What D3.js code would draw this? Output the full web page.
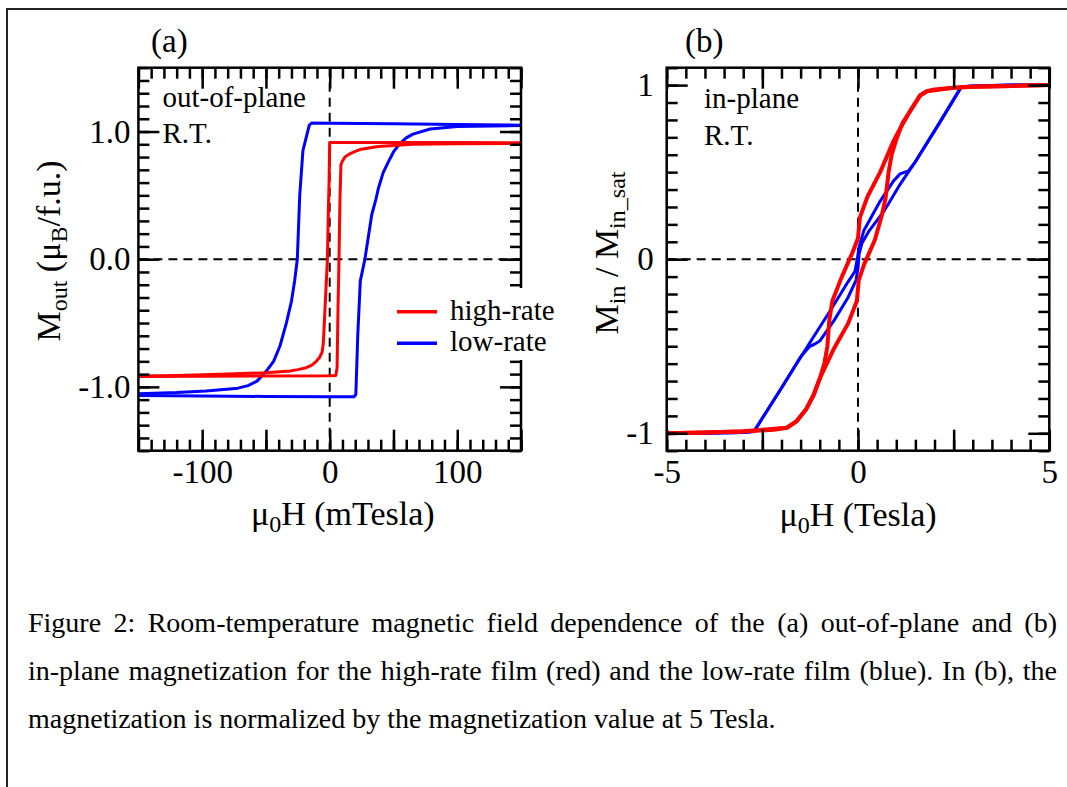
<!DOCTYPE html>
<html>
<head>
<meta charset="utf-8">
<script src="https://cdn.jsdelivr.net/npm/d3@7"></script>
<style>
  body { margin: 0; background: #fff; }
  svg { display: block; font-family: "Liberation Serif", "Times New Roman", serif; }
</style>
</head>
<body>
<div id="fig"></div>
<script>
// ---- data: [field, magnetization] ----
// (a) out-of-plane, field in mT
const outHighDown = [[150,0.912],[100,0.914],[50,0.915],[0,0.915],[-0.5,0.6],[-1,0.4],[-1.8,0.0],[-3.5,-0.35],[-5,-0.66],[-6,-0.73],[-8,-0.77],[-10.5,-0.80],[-14,-0.83],[-18.4,-0.85],[-25,-0.865],[-31,-0.876],[-50,-0.889],[-80,-0.90],[-120,-0.91],[-150,-0.915]];
const outHighUp   = [[-150,-0.918],[-100,-0.917],[-50,-0.915],[0,-0.912],[4.8,-0.91],[5.8,-0.85],[6.5,-0.4],[7.3,0.0],[8,0.45],[8.8,0.74],[9.8,0.765],[12,0.80],[15.3,0.823],[20,0.845],[24.8,0.862],[38,0.883],[65,0.90],[100,0.905],[150,0.907]];
const outLowDown  = [[150,1.05],[100,1.055],[50,1.06],[0,1.065],[-14,1.067],[-16,1.05],[-19,0.93],[-21,0.85],[-23.5,0.5],[-25.4,0.0],[-27.5,-0.17],[-30,-0.33],[-34,-0.5],[-39,-0.68],[-44,-0.80],[-50,-0.88],[-57,-0.955],[-64,-0.99],[-72,-1.01],[-83,-1.02],[-97,-1.033],[-120,-1.045],[-150,-1.054]];
const outLowUp    = [[-150,-1.068],[-100,-1.072],[-50,-1.075],[0,-1.078],[19,-1.078],[20.5,-1.06],[22,-0.6],[24,-0.17],[27.6,0.0],[33,0.35],[36,0.46],[38.3,0.56],[42,0.68],[46.4,0.77],[50,0.84],[54.5,0.90],[60,0.95],[65.3,0.98],[78.8,1.02],[100,1.04],[150,1.047]];

// (b) in-plane, field in T
const inHighDown = [[5,1.0],[4,0.995],[3,0.99],[2.5,0.985],[2.0,0.975],[1.8,0.965],[1.62,0.94],[1.36,0.85],[1.1,0.75],[0.93,0.68],[0.58,0.50],[0.25,0.36],[0.05,0.24],[0.0,0.12],[-0.16,0.03],[-0.44,-0.11],[-0.67,-0.24],[-0.75,-0.35],[-0.8,-0.5],[-0.88,-0.6],[-0.99,-0.68],[-1.16,-0.78],[-1.35,-0.86],[-1.6,-0.93],[-1.86,-0.968],[-2.5,-0.98],[-3,-0.988],[-4,-0.995],[-5,-1.0]];
const inHighUp   = [[-5,-1.0],[-4,-0.995],[-3,-0.99],[-2.2,-0.98],[-1.86,-0.968],[-1.6,-0.93],[-1.35,-0.86],[-1.16,-0.78],[-0.99,-0.68],[-0.62,-0.51],[-0.26,-0.37],[-0.03,-0.24],[0.02,-0.12],[0.16,-0.03],[0.44,0.11],[0.62,0.25],[0.72,0.35],[0.8,0.5],[0.88,0.6],[0.99,0.68],[1.16,0.78],[1.36,0.85],[1.62,0.94],[1.8,0.965],[2.5,0.985],[3,0.99],[4,0.995],[5,1.0]];
const inLowDown  = [[5,1.0],[4,1.0],[3,0.995],[2.7,0.99],[2.11,0.776],[1.47,0.55],[1.32,0.507],[1.1,0.49],[0.93,0.45],[0.58,0.334],[0.15,0.163],[0.03,0.07],[-0.02,0.0],[-0.08,-0.07],[-0.26,-0.13],[-0.71,-0.29],[-1.26,-0.48],[-2.0,-0.74],[-2.72,-0.99],[-3,-0.995],[-4,-1.0],[-5,-1.0]];
const inLowUp    = [[-5,-1.0],[-4,-1.0],[-3,-0.995],[-2.72,-0.99],[-2.0,-0.74],[-1.5,-0.56],[-1.26,-0.5],[-1.15,-0.49],[-1.0,-0.47],[-0.62,-0.35],[-0.26,-0.22],[-0.05,-0.12],[0.0,-0.05],[0.03,0.03],[0.1,0.09],[0.29,0.163],[0.66,0.27],[0.84,0.334],[1.1,0.43],[1.47,0.55],[2.11,0.776],[2.7,0.99],[3,0.995],[4,1.0],[5,1.0]];

// ---- ticks ----
const xMajorA  = [-150, -100, -50, 0, 50, 100, 150];
const xLabelA  = [-100, 0, 100];
const xMinorA  = d3.range(-150, 151, 10);
const yMajorA  = [-1, 0, 1];
const yLabelA  = [-1, 0, 1];
const yMinorA  = d3.range(-15, 16).map(i => i / 10);
const xMajorB  = [-5, -2.5, 0, 2.5, 5];
const xLabelB  = [-5, 0, 5];
const xMinorB  = d3.range(-10, 11).map(i => i / 2);
const yMajorB  = [-1, 0, 1];
const yLabelB  = [-1, 0, 1];
const yMinorB  = d3.range(-11, 12).map(i => i / 10);

const legendItems = [
  { label: "high-rate", color: "#ff0000" },
  { label: "low-rate",  color: "#0000ff" }
];

const captionLines = [
  "Figure 2: Room-temperature magnetic field dependence of the (a) out-of-plane and (b)",
  "in-plane magnetization for the high-rate film (red) and the low-rate film (blue). In (b), the",
  "magnetization is normalized by the magnetization value at 5 Tesla."
];

// ---- layout ----
const W = 1067, H = 787;
const RED = "#ff0000", BLUE = "#0000ff";
const svg = d3.select("#fig").append("svg").attr("width", W).attr("height", H);

// plain hyphen for negatives, as in the figure
const hyphen = f => v => f(v).replace("\u2212", "-");

// outer frame (runs off the right/bottom of the picture)
svg.append("rect")
  .attr("x", 7).attr("y", 9).attr("width", 1200).attr("height", 1000)
  .attr("fill", "none").attr("stroke", "#222").attr("stroke-width", 2);

const plotTop = 67.7, plotBottom = 450.7;

function drawPanel(cfg) {
  const x = d3.scaleLinear().domain(cfg.xDomain).range([cfg.left, cfg.right]);
  const y = d3.scaleLinear().domain(cfg.yDomain).range([plotBottom, plotTop]);
  const g = svg.append("g");

  // zero lines
  g.append("line")
    .attr("x1", x(0)).attr("x2", x(0)).attr("y1", plotTop).attr("y2", plotBottom)
    .attr("stroke", "#000").attr("stroke-width", 2).attr("stroke-dasharray", "9,6");
  g.append("line")
    .attr("x1", cfg.left).attr("x2", cfg.right).attr("y1", y(0)).attr("y2", y(0))
    .attr("stroke", "#000").attr("stroke-width", 2).attr("stroke-dasharray", "9,6");

  // curves
  const line = d3.line().x(d => x(d[0])).y(d => y(d[1]));
  cfg.curves.forEach(c => {
    g.append("path")
      .attr("d", line(c.data))
      .attr("fill", "none")
      .attr("stroke", c.color)
      .attr("stroke-width", c.width)
      .attr("stroke-linejoin", "round");
  });

  // ticks on all four sides, pointing inward
  const fmtX = v => cfg.xLabels.includes(v) ? cfg.xFmt(v) : "";
  const fmtY = v => cfg.yLabels.includes(v) ? cfg.yFmt(v) : "";
  const axes = [
    [d3.axisBottom(x).tickValues(cfg.xMinor).tickSize(-11).tickFormat(""), `translate(0,${plotBottom})`],
    [d3.axisBottom(x).tickValues(cfg.xMajor).tickSize(-21).tickPadding(9).tickFormat(fmtX), `translate(0,${plotBottom})`],
    [d3.axisTop(x).tickValues(cfg.xMinor).tickSize(-11).tickFormat(""), `translate(0,${plotTop})`],
    [d3.axisTop(x).tickValues(cfg.xMajor).tickSize(-21).tickFormat(""), `translate(0,${plotTop})`],
    [d3.axisLeft(y).tickValues(cfg.yMinor).tickSize(-11).tickFormat(""), `translate(${cfg.left},0)`],
    [d3.axisLeft(y).tickValues(cfg.yMajor).tickSize(-21).tickPadding(cfg.yPad).tickFormat(fmtY), `translate(${cfg.left},0)`],
    [d3.axisRight(y).tickValues(cfg.yMinor).tickSize(-11).tickFormat(""), `translate(${cfg.right},0)`],
    [d3.axisRight(y).tickValues(cfg.yMajor).tickSize(-21).tickFormat(""), `translate(${cfg.right},0)`]
  ];
  axes.forEach(([ax, tr]) => {
    const a = g.append("g").attr("transform", tr).call(ax)
      .attr("font-family", null).attr("font-size", null);
    a.select(".domain").remove();
    a.selectAll(".tick line").attr("stroke", "#000").attr("stroke-width", 2.5);
    a.selectAll(".tick text").attr("fill", "#000").style("font-size", "33px");
  });

  // frame
  g.append("rect")
    .attr("x", cfg.left).attr("y", plotTop)
    .attr("width", cfg.right - cfg.left).attr("height", plotBottom - plotTop)
    .attr("fill", "none").attr("stroke", "#000").attr("stroke-width", 2.5);

  return { x, y, g };
}

const pa = drawPanel({
  left: 138.4, right: 521,
  xDomain: [-150, 150], yDomain: [-1.5, 1.5],
  xMajor: xMajorA, xMinor: xMinorA, xLabels: xLabelA, xFmt: hyphen(d3.format("d")),
  yMajor: yMajorA, yMinor: yMinorA, yLabels: yLabelA, yFmt: hyphen(d3.format(".1f")), yPad: 8,
  curves: [
    { data: outLowDown,  color: BLUE, width: 3 },
    { data: outLowUp,    color: BLUE, width: 3 },
    { data: outHighDown, color: RED,  width: 3 },
    { data: outHighUp,   color: RED,  width: 3 }
  ]
});

const pb = drawPanel({
  left: 666.7, right: 1049.3,
  xDomain: [-5, 5], yDomain: [-1.1, 1.1],
  xMajor: xMajorB, xMinor: xMinorB, xLabels: xLabelB, xFmt: hyphen(d3.format("d")),
  yMajor: yMajorB, yMinor: yMinorB, yLabels: yLabelB, yFmt: hyphen(d3.format("d")), yPad: 13,
  curves: [
    { data: inLowDown,  color: BLUE, width: 3 },
    { data: inLowUp,    color: BLUE, width: 3 },
    { data: inHighDown, color: RED,  width: 4 },
    { data: inHighUp,   color: RED,  width: 4 }
  ]
});

// panel letters
svg.append("text").attr("x", 151).attr("y", 52).style("font-size", "33px").text("(a)");
svg.append("text").attr("x", 685).attr("y", 52).style("font-size", "33px").text("(b)");

// annotations
[["out-of-plane", 162.5, 106.7], ["R.T.", 162.5, 143.3],
 ["in-plane", 704, 107.5], ["R.T.", 704, 145]].forEach(([t, x, y]) => {
  svg.append("text").attr("x", x).attr("y", y).style("font-size", "29px").text(t);
});

// x axis titles
function muH(x, y, unit, anchor) {
  const t = svg.append("text").attr("x", x).attr("y", y)
    .attr("text-anchor", anchor).style("font-size", "34px");
  t.append("tspan").text("\u03bc");
  t.append("tspan").attr("dy", 7).style("font-size", "24px").text("0");
  t.append("tspan").attr("dy", -7).text(`H (${unit})`);
}
muH(251, 525, "mTesla", "start");
muH(858, 526, "Tesla", "middle");

// y axis titles
const yta = svg.append("text")
  .attr("transform", "translate(60,251) rotate(-90)")
  .attr("text-anchor", "middle").style("font-size", "34px");
yta.append("tspan").text("M");
yta.append("tspan").attr("dy", 7).style("font-size", "24px").text("out");
yta.append("tspan").attr("dy", -7).text(" (\u03bc");
yta.append("tspan").attr("dy", 7).style("font-size", "24px").text("B");
yta.append("tspan").attr("dy", -7).text("/f.u.)");

const ytb = svg.append("text")
  .attr("transform", "translate(618,253) rotate(-90)")
  .attr("text-anchor", "middle").style("font-size", "34px");
ytb.append("tspan").text("M");
ytb.append("tspan").attr("dy", 7).style("font-size", "24px").text("in");
ytb.append("tspan").attr("dy", -7).text(" / M");
ytb.append("tspan").attr("dy", 7).style("font-size", "24px").text("in_sat");

// legend (white box hides the right axis of (a))
const lg = svg.append("g");
lg.append("rect").attr("x", 388).attr("y", 288).attr("width", 172).attr("height", 72).attr("fill", "#fff");
legendItems.forEach((d, i) => {
  const yy = 311.7 + i * 31.6;
  lg.append("line").attr("x1", 397).attr("x2", 437).attr("y1", yy).attr("y2", yy)
    .attr("stroke", d.color).attr("stroke-width", 3.5);
  lg.append("text").attr("x", 450).attr("y", yy + 8).style("font-size", "29px").text(d.label);
});

// caption, first two lines justified
const cap = svg.append("g").style("font-size", "28px");
const capLeft = 28, capRight = 1057, capY = [632, 680, 728];
captionLines.forEach((ln, li) => {
  const words = ln.split(" ");
  const nodes = words.map(w => cap.append("text").attr("y", capY[li]).text(w));
  const widths = nodes.map(n => n.node().getComputedTextLength());
  const justify = li < captionLines.length - 1;
  const gap = justify ? (capRight - capLeft - d3.sum(widths)) / (words.length - 1) : 7;
  let cx = capLeft;
  nodes.forEach((n, i) => { n.attr("x", cx); cx += widths[i] + gap; });
});
</script>
</body>
</html>
